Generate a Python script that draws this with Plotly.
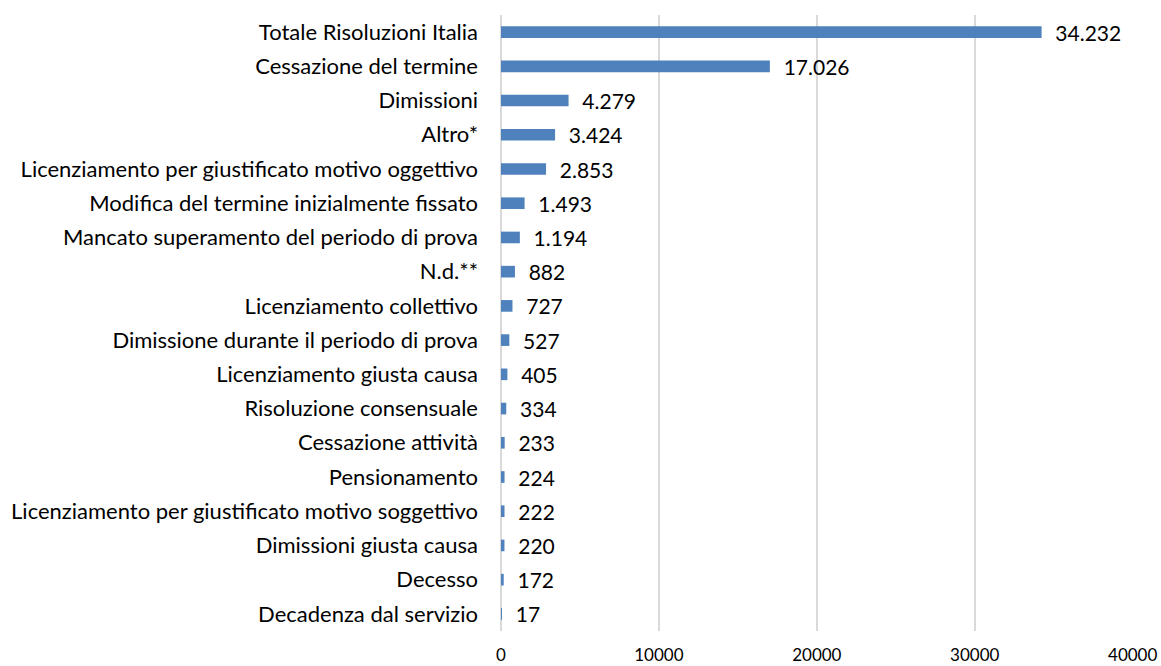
import plotly.graph_objects as go

categories = [
    "Totale Risoluzioni Italia",
    "Cessazione del termine",
    "Dimissioni",
    "Altro*",
    "Licenziamento per giustificato motivo oggettivo",
    "Modifica del termine inizialmente fissato",
    "Mancato superamento del periodo di prova",
    "N.d.**",
    "Licenziamento collettivo",
    "Dimissione durante il periodo di prova",
    "Licenziamento giusta causa",
    "Risoluzione consensuale",
    "Cessazione attività",
    "Pensionamento",
    "Licenziamento per giustificato motivo soggettivo",
    "Dimissioni giusta causa",
    "Decesso",
    "Decadenza dal servizio",
]
values = [34232, 17026, 4279, 3424, 2853, 1493, 1194, 882, 727, 527,
          405, 334, 233, 224, 222, 220, 172, 17]
x_ticks = [0, 10000, 20000, 30000, 40000]

FONT = "Lato, Carlito, 'Open Sans', sans-serif"
GRID = "#d9d9d9"

fig = go.Figure(
    go.Bar(
        x=values,
        y=categories,
        orientation="h",
        marker=dict(color="#4f81bd", line=dict(width=0)),
        texttemplate="\u00a0\u00a0%{x:,}",
        textposition="outside",
        constraintext="none",
        cliponaxis=False,
        textfont=dict(family=FONT, size=21, color="#000000"),
        hoverinfo="skip",
    )
)

fig.update_layout(
    width=1161,
    height=666,
    margin=dict(l=501, r=28, t=15, b=35),
    paper_bgcolor="white",
    plot_bgcolor="white",
    separators=",.",
    bargap=0.66,
    showlegend=False,
    font=dict(family=FONT, size=22, color="#000000"),
    xaxis=dict(
        range=[0, 40020],
        tickvals=x_ticks,
        tickformat="d",
        showgrid=True,
        gridcolor=GRID,
        gridwidth=1.5,
        zeroline=True,
        zerolinecolor=GRID,
        zerolinewidth=1.5,
        showline=False,
        ticks="",
        tickfont=dict(family=FONT, size=17, color="#000000"),
        ticklabelstandoff=12,
        automargin=False,
        fixedrange=True,
    ),
    yaxis=dict(
        categoryorder="array",
        categoryarray=categories[::-1],
        showgrid=False,
        zeroline=False,
        showline=False,
        ticks="",
        ticklabelstandoff=22,
        tickfont=dict(family=FONT, size=22, color="#000000"),
        automargin=False,
        fixedrange=True,
    ),
)

fig.write_html("out.html")
